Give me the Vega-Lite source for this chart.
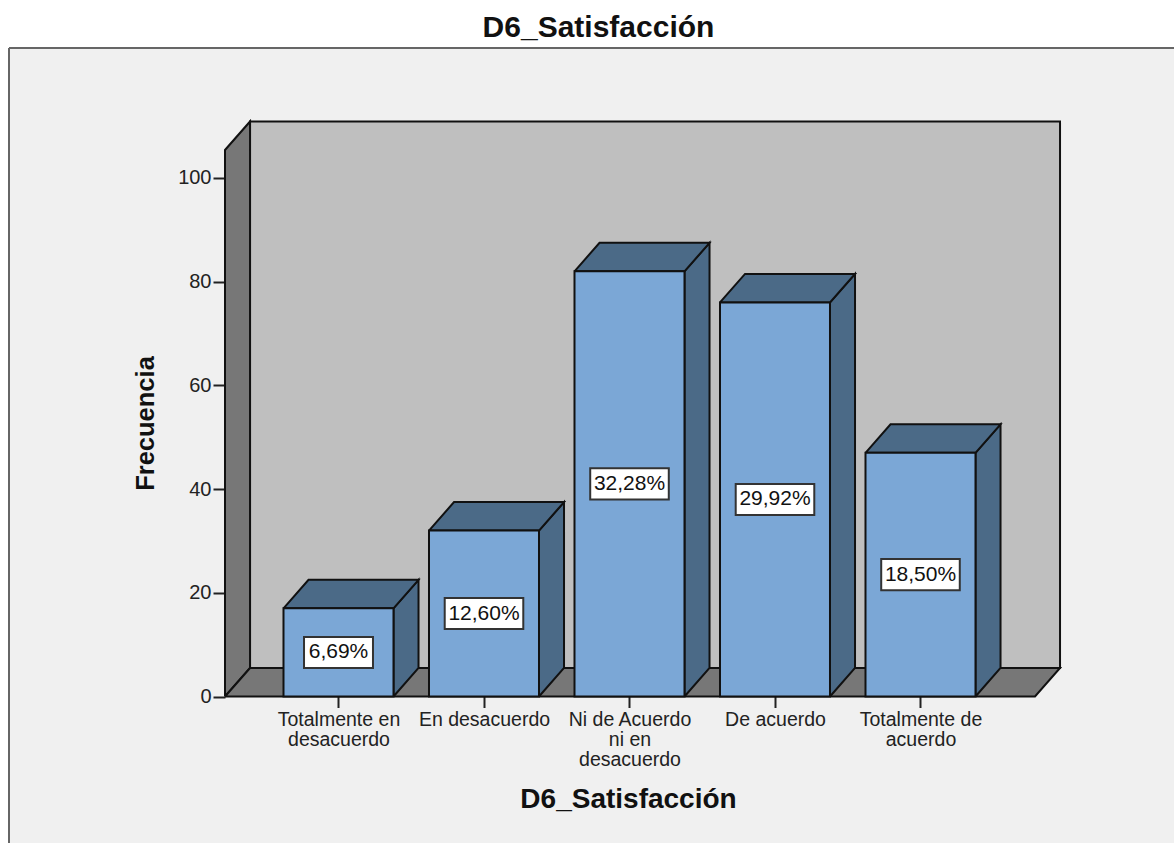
{
  "$schema": "https://vega.github.io/schema/vega-lite/v6.json",
  "autosize": "none",
  "padding": {"left": 9, "top": 48, "right": 0, "bottom": 0},
  "width": 1165,
  "height": 795,
  "background": "#ffffff",
  "view": {"fill": "#f0f0f0", "stroke": null},
  "title": {"text": "D6_Satisfacción", "font": "Liberation Sans", "fontSize": 30, "fontWeight": "bold", "color": "#111111", "anchor": "middle", "dx": 7, "offset": 4},
  "params": [
    {"name": "mediaBarra", "value": 0.378},
    {"name": "fondoX", "value": 0.172},
    {"name": "fondoY", "value": 5.5}
  ],
  "datasets": {
    "respuestas": [
      {"pos": 1, "categoria": "Totalmente en desacuerdo", "frecuencia": 17, "etiqueta": "6,69%"},
      {"pos": 2, "categoria": "En desacuerdo", "frecuencia": 32, "etiqueta": "12,60%"},
      {"pos": 3, "categoria": "Ni de Acuerdo ni en desacuerdo", "frecuencia": 82, "etiqueta": "32,28%"},
      {"pos": 4, "categoria": "De acuerdo", "frecuencia": 76, "etiqueta": "29,92%"},
      {"pos": 5, "categoria": "Totalmente de acuerdo", "frecuencia": 47, "etiqueta": "18,50%"}
    ]
  },
  "layer": [
    {
      "data": {"values": [{"cara": "fondo"}]},
      "mark": {"type": "rect", "fill": "#bfbfbf", "stroke": "#111111", "strokeWidth": 2},
      "encoding": {
        "x": {
          "datum": 0.392,
          "type": "quantitative",
          "scale": {"domain": [-1.2646, 6.7423], "nice": false, "zero": false},
          "axis": {
            "values": [1, 2, 3, 4, 5],
            "offset": -146.5,
            "domain": false,
            "grid": false,
            "title": "D6_Satisfacción",
            "titleFont": "Liberation Sans",
            "titleFontSize": 28,
            "titleFontWeight": "bold",
            "titleColor": "#111111",
            "titleX": 619,
            "titleY": 89,
            "tickSize": 11,
            "tickWidth": 2,
            "tickColor": "#222222",
            "labelFont": "Liberation Sans",
            "labelFontSize": 19.5,
            "labelColor": "#222222",
            "labelPadding": 3,
            "labelLineHeight": 20,
            "labelOverlap": false,
            "labelBound": false,
            "labelFlush": false,
            "labelExpr": "datum.value == 1 ? ['Totalmente en', 'desacuerdo'] : datum.value == 2 ? 'En desacuerdo' : datum.value == 3 ? ['Ni de Acuerdo', 'ni en', 'desacuerdo'] : datum.value == 4 ? 'De acuerdo' : ['Totalmente de', 'acuerdo']"
          }
        },
        "x2": {"datum": 5.959},
        "y": {
          "datum": 5.5,
          "type": "quantitative",
          "scale": {"domain": [-28.25, 125.07], "nice": false, "zero": false},
          "axis": {
            "values": [0, 20, 40, 60, 80, 100],
            "offset": -216,
            "domain": false,
            "grid": false,
            "title": "Frecuencia",
            "titleFont": "Liberation Sans",
            "titleFontSize": 25.5,
            "titleFontWeight": "bold",
            "titleColor": "#111111",
            "titleX": -67,
            "titleY": 375,
            "tickSize": 12,
            "tickWidth": 2,
            "tickColor": "#222222",
            "labelFont": "Liberation Sans",
            "labelFontSize": 20,
            "labelColor": "#222222",
            "labelPadding": 2
          }
        },
        "y2": {"datum": 110.9}
      }
    },
    {
      "data": {"values": [{"cara": "lateral"}, {"cara": "suelo"}]},
      "transform": [
        {"calculate": "datum.cara == 'lateral' ? [0.22, 0.392, 0.392, 0.22, 0.22] : [0.22, 5.787, 5.959, 0.392, 0.22]", "as": "vx"},
        {"calculate": "datum.cara == 'lateral' ? [0, 5.5, 110.9, 105.4, 0] : [0, 0, 5.5, 5.5, 0]", "as": "vy"},
        {"calculate": "[0, 1, 2, 3, 4]", "as": "orden"},
        {"flatten": ["vx", "vy", "orden"]}
      ],
      "mark": {"type": "line", "fill": "#777777", "stroke": "#111111", "strokeWidth": 2, "strokeJoin": "miter"},
      "encoding": {
        "x": {"field": "vx", "type": "quantitative"},
        "y": {"field": "vy", "type": "quantitative"},
        "detail": {"field": "cara"},
        "order": {"field": "orden", "type": "quantitative"}
      }
    },
    {
      "data": {"name": "respuestas"},
      "transform": [
        {"calculate": "datum.pos + mediaBarra", "as": "x1"},
        {"calculate": "[datum.x1, datum.x1 + fondoX, datum.x1 + fondoX, datum.x1, datum.x1]", "as": "vx"},
        {"calculate": "[0, fondoY, datum.frecuencia + fondoY, datum.frecuencia, 0]", "as": "vy"},
        {"calculate": "[0, 1, 2, 3, 4]", "as": "orden"},
        {"flatten": ["vx", "vy", "orden"]}
      ],
      "mark": {"type": "line", "fill": "#4b6a87", "stroke": "#111111", "strokeWidth": 2, "strokeJoin": "miter"},
      "encoding": {
        "x": {"field": "vx", "type": "quantitative"},
        "y": {"field": "vy", "type": "quantitative"},
        "detail": {"field": "categoria"},
        "order": {"field": "orden", "type": "quantitative"}
      }
    },
    {
      "data": {"name": "respuestas"},
      "transform": [
        {"calculate": "datum.pos - mediaBarra", "as": "x0"},
        {"calculate": "datum.pos + mediaBarra", "as": "x1"},
        {"calculate": "[datum.x0, datum.x1, datum.x1 + fondoX, datum.x0 + fondoX, datum.x0]", "as": "vx"},
        {"calculate": "[datum.frecuencia, datum.frecuencia, datum.frecuencia + fondoY, datum.frecuencia + fondoY, datum.frecuencia]", "as": "vy"},
        {"calculate": "[0, 1, 2, 3, 4]", "as": "orden"},
        {"flatten": ["vx", "vy", "orden"]}
      ],
      "mark": {"type": "line", "fill": "#4b6a87", "stroke": "#111111", "strokeWidth": 2, "strokeJoin": "miter"},
      "encoding": {
        "x": {"field": "vx", "type": "quantitative"},
        "y": {"field": "vy", "type": "quantitative"},
        "detail": {"field": "categoria"},
        "order": {"field": "orden", "type": "quantitative"}
      }
    },
    {
      "data": {"name": "respuestas"},
      "transform": [
        {"calculate": "datum.pos - mediaBarra", "as": "x0"},
        {"calculate": "datum.pos + mediaBarra", "as": "x1"}
      ],
      "mark": {"type": "rect", "fill": "#7ba7d6", "stroke": "#111111", "strokeWidth": 2},
      "encoding": {
        "x": {"field": "x0", "type": "quantitative"},
        "x2": {"field": "x1"},
        "y": {"field": "frecuencia", "type": "quantitative"},
        "y2": {"datum": 0}
      }
    },
    {
      "data": {"name": "respuestas"},
      "transform": [
        {"calculate": "length(datum.etiqueta) > 5 ? 0.27 : 0.237", "as": "mediaCaja"},
        {"calculate": "datum.pos - datum.mediaCaja", "as": "cx0"},
        {"calculate": "datum.pos + datum.mediaCaja", "as": "cx1"},
        {"calculate": "datum.frecuencia / 2 - 3", "as": "cy0"},
        {"calculate": "datum.frecuencia / 2 + 3", "as": "cy1"}
      ],
      "mark": {"type": "rect", "fill": "#ffffff", "stroke": "#333333", "strokeWidth": 2},
      "encoding": {
        "x": {"field": "cx0", "type": "quantitative"},
        "x2": {"field": "cx1"},
        "y": {"field": "cy0", "type": "quantitative"},
        "y2": {"field": "cy1"}
      }
    },
    {
      "data": {"name": "respuestas"},
      "transform": [{"calculate": "datum.frecuencia / 2", "as": "medio"}],
      "mark": {"type": "text", "font": "Liberation Sans", "fontSize": 21, "color": "#111111", "align": "center", "baseline": "middle"},
      "encoding": {
        "x": {"field": "pos", "type": "quantitative"},
        "y": {"field": "medio", "type": "quantitative"},
        "text": {"field": "etiqueta"}
      }
    },
    {
      "data": {"values": [{"borde": "izquierdo"}]},
      "mark": {"type": "rule", "stroke": "#666666", "strokeWidth": 2},
      "encoding": {"x": {"datum": -1.2646, "type": "quantitative"}}
    },
    {
      "data": {"values": [{"borde": "superior"}]},
      "mark": {"type": "rule", "stroke": "#666666", "strokeWidth": 2},
      "encoding": {"y": {"datum": 125.07, "type": "quantitative"}}
    }
  ]
}
